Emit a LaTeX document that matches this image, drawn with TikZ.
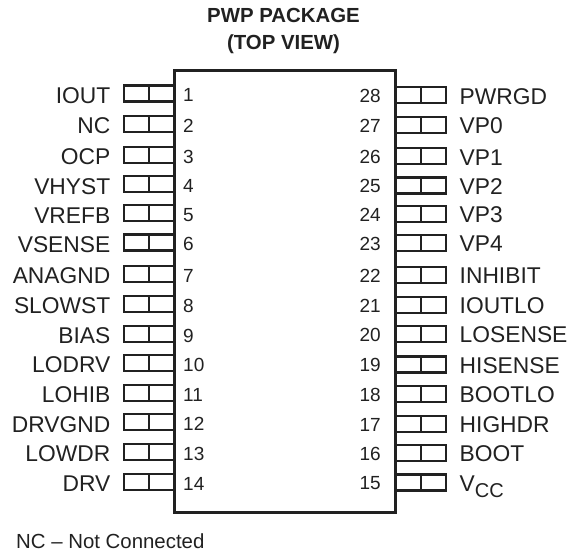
\documentclass[tikz,border=0pt]{standalone}
\usepackage{fontspec}
\setmainfont{Liberation Sans}
\definecolor{ink}{gray}{0.13}
\tikzset{
  body/.style={draw=ink,line width=3pt},
  pinbox/.style={draw=ink,line width=2.1pt},
  pinlabel/.style={inner sep=0pt,text=ink,font=\fontsize{22.8}{26}\selectfont},
  pinnum/.style={inner sep=0pt,text=ink,font=\fontsize{19}{22}\selectfont},
  title/.style={inner sep=0pt,align=center,text=ink,font=\fontsize{20.4}{27}\selectfont\bfseries},
  note/.style={inner sep=0pt,anchor=base west,text=ink,font=\fontsize{20.4}{24}\selectfont}
}
\begin{document}
\begin{tikzpicture}[x=1pt,y=-1pt]
\useasboundingbox (0,0) rectangle (577,554);
\node[title] (ttl) at (283.5,31) {PWP PACKAGE\\(TOP VIEW)};
\foreach \n/\lab/\yy in {1/IOUT/93.5,2/NC/124,3/OCP/155,4/VHYST/184.3,5/VREFB/213.3,6/VSENSE/242.5,7/ANAGND/273.7,8/SLOWST/303.7,9/BIAS/333.7,10/LODRV/362.8,11/LOHIB/392.8,12/DRVGND/422.3,13/LOWDR/452,14/DRV/481.7}{
  \draw[pinbox] (174,\yy-8) -- (124,\yy-8) -- (124,\yy+8) -- (174,\yy+8) (149,\yy-8) -- (149,\yy+8);
  \node[pinlabel,anchor=base east] (l\n) at (110.5,\yy+9.7) {\lab};
  \node[pinnum,anchor=base west] (n\n) at (183,\yy+8.3) {\n};
}
\foreach \n/\lab/\yy in {28/PWRGD/95.3,27/VP0/125,26/VP1/156.3,25/VP2/185.5,24/VP3/214,23/VP4/243,22/INHIBIT/275,21/IOUTLO/304.7,20/LOSENSE/334,19/HISENSE/364.5,18/BOOTLO/393.7,17/HIGHDR/423.7,16/BOOT/453,15/{V\raisebox{-6pt}{\fontsize{20}{24}\selectfont CC}}/482.5}{
  \draw[pinbox] (395.5,\yy-8) -- (446,\yy-8) -- (446,\yy+8) -- (395.5,\yy+8) (421,\yy-8) -- (421,\yy+8);
  \node[pinlabel,anchor=base west] (l\n) at (459.5,\yy+8.7) {\lab};
  \node[pinnum,anchor=base east] (n\n) at (381,\yy+7.3) {\n};
}
\draw[body] (174,70) rectangle (395.5,512);
\node[note] (nc) at (16,548) {NC -- Not Connected};
\end{tikzpicture}
\end{document}
